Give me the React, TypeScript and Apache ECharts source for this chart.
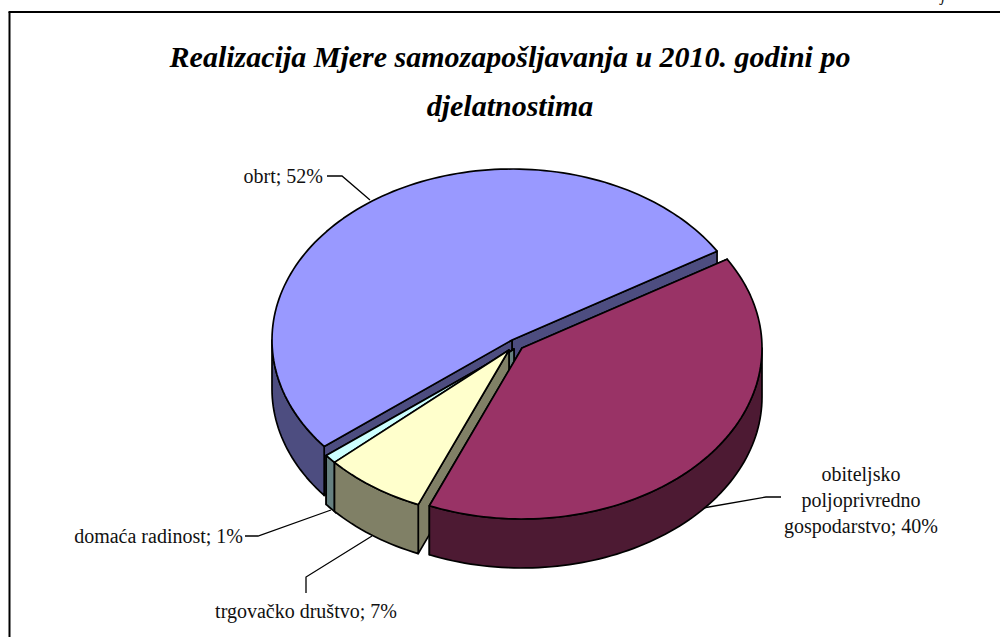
import React, { useEffect, useRef } from "react";
import * as echarts from "echarts";

const categories = ["obrt", "domaća radinost", "trgovačko društvo", "obiteljsko\npoljoprivredno\ngospodarstvo"];
const values = [52, 1, 7, 40];
const topColors = ["#9999FF", "#CCFFFF", "#FFFFCC", "#993366"];
const sideColors = ["#4D4D80", "#668080", "#808066", "#4D1A33"];
const titleLines = ["Realizacija Mjere samozapošljavanja u 2010. godini po", "djelatnostima"];

const FONT = '"Liberation Serif", "Times New Roman", serif';
const RX = 240;
const RY = 171;
const DEPTH = 49;
const START_DEG = 31.3;
const CENTERS = [[512, 340], [514, 349], [509, 350], [522, 348]];
const SCALES = [1, 1, 0.98, 1];
const LABEL_POS = [
  { x: 323, y: 176, align: "right" },
  { x: 243, y: 536, align: "right" },
  { x: 306, y: 611, align: "center" },
  { x: 861, y: 499.5, align: "center" },
];
const LEADERS = [
  [[327, 176], [342, 176], [370, 200]],
  [[245, 536], [258, 536], [331, 510]],
  [[306, 593], [306, 577], [372, 536]],
  [[781, 497], [766, 497], [703, 508]],
];

const total = values.reduce((a, b) => a + b, 0);
const spans = values.map((v) => (v / total) * 360);
const starts = spans.map((_, i) => START_DEG + spans.slice(0, i).reduce((a, b) => a + b, 0));

const pt = (c: number[], s: number, deg: number, dz = 0) => [
  c[0] + s * RX * Math.cos((deg * Math.PI) / 180),
  c[1] - s * RY * Math.sin((deg * Math.PI) / 180) + dz,
];

const arc = (c: number[], s: number, a0: number, a1: number, dz = 0) => {
  const n = Math.max(2, Math.ceil(Math.abs(a1 - a0) / 1.5));
  const out: number[][] = [];
  for (let i = 0; i <= n; i++) out.push(pt(c, s, a0 + ((a1 - a0) * i) / n, dz));
  return out;
};

const edge = { stroke: "#000", lineWidth: 1.7, lineJoin: "round" };

function renderItem(_params: any, api: any) {
  const i = api.value(0);
  const c = CENTERS[i];
  const s = SCALES[i];
  const a0 = starts[i];
  const a1 = a0 + spans[i];
  const side = { ...edge, fill: sideColors[i] };
  const children: any[] = [];
  const poly = (points: number[][], style: any) => ({ type: "polygon", shape: { points }, style });
  const low = [c[0], c[1] + DEPTH];
  children.push(poly([c, pt(c, s, a0), pt(c, s, a0, DEPTH), low], side));
  children.push(poly([c, pt(c, s, a1), pt(c, s, a1, DEPTH), low], side));
  // outer wall: only the part facing the viewer (180..360 degrees)
  for (const k of [0, 360]) {
    const w0 = Math.max(a0, 180 + k);
    const w1 = Math.min(a1, 360 + k);
    if (w1 > w0) {
      children.push(poly([...arc(c, s, w0, w1), ...arc(c, s, w1, w0, DEPTH)], side));
    }
  }
  children.push(poly([c, ...arc(c, s, a0, a1)], { ...edge, fill: topColors[i] }));
  return { type: "group", children };
}

export default function App() {
  const ref = useRef<HTMLDivElement>(null);
  useEffect(() => {
    document.body.style.margin = "0";
    const chart = echarts.init(ref.current!, undefined, { renderer: "svg" });
    const labelStyle = { fontFamily: FONT, fontSize: 20, fill: "#111", lineHeight: 26 };
    chart.setOption({
      animation: false,
      backgroundColor: "#fff",
      series: [
        {
          type: "custom",
          coordinateSystem: "none",
          renderItem,
          data: values.map((v, i) => [i, v]),
          silent: true,
        },
      ],
      graphic: [
        { type: "line", shape: { x1: 9.5, y1: 12, x2: 9.5, y2: 637 }, style: { stroke: "#000", lineWidth: 2 } },
        { type: "line", shape: { x1: 8.5, y1: 12, x2: 1000, y2: 12 }, style: { stroke: "#000", lineWidth: 2 } },
        { type: "text", x: 941, y: -13, style: { text: "j", font: `italic 16px ${FONT}`, fill: "#111" } },
        ...titleLines.map((t, i) => ({
          type: "text",
          x: 510,
          y: 56 + i * 49,
          style: {
            text: t,
            font: `italic bold 30px ${FONT}`,
            fill: "#000",
            textAlign: "center",
            textVerticalAlign: "middle",
          },
        })),
        ...LEADERS.map((points) => ({
          type: "polyline",
          shape: { points },
          style: { stroke: "#000", lineWidth: 1.3, fill: "none" },
        })),
        ...categories.map((c, i) => ({
          type: "text",
          x: LABEL_POS[i].x,
          y: LABEL_POS[i].y,
          style: {
            ...labelStyle,
            text: `${c}; ${values[i]}%`,
            textAlign: LABEL_POS[i].align,
            textVerticalAlign: "middle",
          },
        })),
      ],
    });
    return () => chart.dispose();
  }, []);
  return <div ref={ref} style={{ position: "absolute", left: 0, top: 0, width: 1000, height: 637 }} />;
}
